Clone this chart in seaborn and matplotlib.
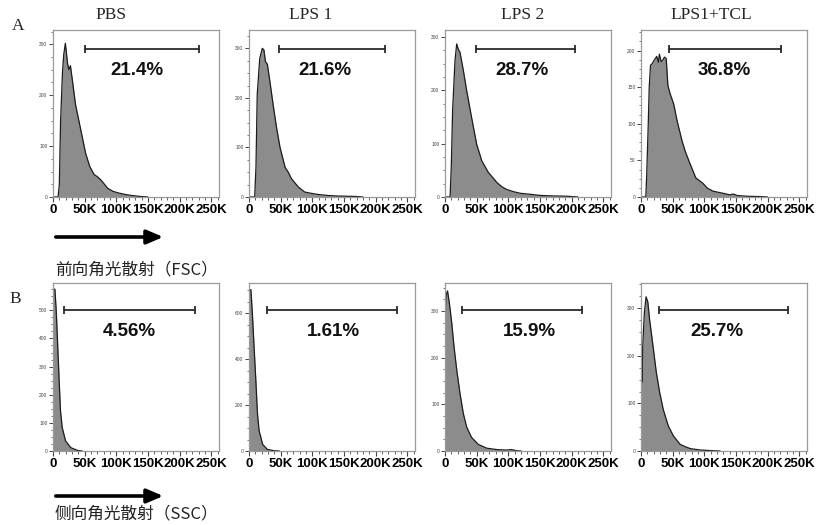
"""Histogramas de citometria: FSC (fila A) y SSC (fila B) para cuatro grupos."""

import matplotlib

matplotlib.use("Agg")
import matplotlib.pyplot as plt
import matplotlib.transforms as mtransforms
import seaborn as sns
from matplotlib.ticker import AutoMinorLocator, FuncFormatter, MultipleLocator

# ---------------- datos ----------------
GRUPOS = ["PBS", "LPS 1", "LPS 2", "LPS1+TCL"]

# FSC (fila A): posicion en miles (K) y recuento
fsc_pbs_k = [0, 8, 10, 12, 15, 17, 19.5, 21, 23, 25, 27.5, 30, 35.5, 43.5, 51.5, 58, 65, 70, 76, 86.5, 95, 103, 114, 124, 138, 150]
fsc_pbs_n = [0, 0, 25, 150, 245, 280, 302, 285, 262, 250, 258, 235, 182, 134, 86, 60, 44, 40, 33, 17, 11, 8, 5, 3, 1, 0]

fsc_lps1_k = [0, 9, 11, 13, 17, 21, 23.5, 26, 29, 33, 38, 43.5, 49, 57, 62, 67, 78, 88, 100, 110, 125, 140, 170, 180]
fsc_lps1_n = [0, 0, 60, 207, 280, 300, 297, 273, 268, 233, 187, 140, 100, 60, 50, 37, 20, 10, 7, 5, 3, 2, 1, 0]

fsc_lps2_k = [0, 8, 10, 12, 15.8, 18.5, 21, 23.7, 29, 34.3, 42, 50, 58, 68.5, 75, 82, 90, 97.6, 108, 118.7, 135, 150, 170, 192, 210]
fsc_lps2_n = [0, 0, 60, 162, 256, 287, 277, 271, 237, 199, 149, 99, 68, 46, 37, 27, 19, 14, 10, 7, 5, 3, 2, 1.5, 0]

fsc_tcl_k = [0, 7.6, 9, 11.3, 13, 15, 17.8, 21, 22.6, 24.8, 27.5, 29, 31.8, 34.5, 37, 39.8, 42.5, 46, 51.6, 57, 65, 70,
             75.8, 86.6, 97.4, 105, 113.5, 130, 140, 146, 152, 168, 190, 200]
fsc_tcl_n = [0, 0, 30, 95, 150, 180, 182, 187, 189, 192, 184, 195, 185, 187, 191, 189, 152, 141, 127, 104, 76, 62,
             49, 26, 19, 12, 8, 5, 3, 4, 2, 1, 0.5, 0]

# SSC (fila B)
ssc_pbs_k = [0, 0.5, 3, 5.3, 7.5, 9.7, 11.8, 14.5, 19.8, 28, 38.7, 46]
ssc_pbs_n = [0, 575, 575, 490, 370, 251, 143, 84, 36, 12, 2, 0]

ssc_lps1_k = [0, 0.5, 3, 5.3, 8, 10.8, 13.4, 16, 21.5, 29, 40, 48]
ssc_lps1_n = [0, 702, 702, 600, 453, 307, 161, 88, 29, 7, 1, 0]

ssc_lps2_k = [0, 0.3, 2, 4, 6.8, 10.6, 14.2, 18.5, 23.7, 29, 34.3, 42, 52.7, 66, 82, 97, 105, 113, 120]
ssc_lps2_n = [0, 290, 336, 343, 318, 275, 224, 174, 123, 80, 51, 29, 14, 6, 3, 2, 3, 0.5, 0]

ssc_tcl_k = [0, 0.3, 1.5, 2.7, 5.4, 8, 10.8, 13.4, 18.9, 24.2, 29.5, 35, 43, 51, 61.8, 70, 78, 94, 115, 125]
ssc_tcl_n = [0, 193, 145, 221, 292, 324, 313, 278, 221, 165, 123, 88, 53, 32, 14, 9, 5, 2, 0.5, 0]

# puertas (K) y porcentajes
fsc_gate_lo = [50, 48, 48.6, 45]
fsc_gate_hi = [230, 214, 204.6, 221]
fsc_pct = ["21.4%", "21.6%", "28.7%", "36.8%"]

ssc_gate_lo = [16.6, 28.5, 27.4, 27.9]
ssc_gate_hi = [223.7, 234, 216, 232]
ssc_pct = ["4.56%", "1.61%", "15.9%", "25.7%"]

# escala vertical de cada panel
fsc_ymax = [328, 337, 313, 228]
fsc_ystep = [100, 100, 100, 50]
ssc_ymax = [597, 731, 360, 353]
ssc_ystep = [100, 200, 100, 100]

# ---------------- estilo ----------------
sns.set_style("ticks")
plt.rcParams["font.family"] = ["Liberation Sans", "DejaVu Sans"]

W, H = 818, 525
fig = plt.figure(figsize=(W / 100, H / 100), dpi=100)

IZQ_PX = [53, 249, 445, 641]
ANCHO_PX = 166
FILAS_PX = [(30, 197), (283, 451)]
TEXTO_X_FSC = [0.506, 0.458, 0.465, 0.504]
TEXTO_X_SSC = [0.46, 0.508, 0.507, 0.456]


def formato_k(v, _pos):
    return "0" if v == 0 else f"{int(round(v / 1000))}K"


def dibujar_panel(ax, k, n, ymax, ystep, lo, hi, pct, gate_y, texto_x, texto_y):
    x = [v * 1000 for v in k]
    ax.fill_between(x, n, color="#8c8c8c", linewidth=0)
    sns.lineplot(x=x, y=n, ax=ax, color="#1c1c1c", linewidth=0.9, sort=False, estimator=None)

    ax.set_xlim(0, 262144)
    ax.set_ylim(0, ymax)
    ax.xaxis.set_major_locator(MultipleLocator(50000))
    ax.xaxis.set_minor_locator(AutoMinorLocator(5))
    ax.xaxis.set_major_formatter(FuncFormatter(formato_k))
    ax.yaxis.set_major_locator(MultipleLocator(ystep))
    ax.yaxis.set_minor_locator(AutoMinorLocator(4))
    ax.tick_params(axis="x", which="major", length=3.5, width=0.8, pad=1.5, labelsize=9.5)
    ax.tick_params(axis="x", which="minor", length=2, width=0.6)
    ax.tick_params(axis="y", which="major", length=3, width=0.7, pad=1, labelsize=3.5, labelcolor="#555555")
    ax.tick_params(axis="y", which="minor", length=1.6, width=0.5)
    ax.tick_params(colors="#444444", which="both")
    for lab in ax.get_xticklabels():
        lab.set_fontweight("bold")
        lab.set_color("black")
    for s in ax.spines.values():
        s.set_color("#9a9a9a")
        s.set_linewidth(0.9)
    ax.set_xlabel("")
    ax.set_ylabel("")

    trans = mtransforms.blended_transform_factory(ax.transData, ax.transAxes)
    ax.plot([lo * 1000, hi * 1000], [gate_y, gate_y], transform=trans, color="#2b2b2b",
            linewidth=1.3, marker="|", markersize=6, markeredgewidth=1.3)
    ax.text(texto_x, texto_y, pct, transform=ax.transAxes, ha="center", va="center",
            fontsize=13.5, fontweight="bold", color="#111111")


datos_fsc = [(fsc_pbs_k, fsc_pbs_n), (fsc_lps1_k, fsc_lps1_n), (fsc_lps2_k, fsc_lps2_n), (fsc_tcl_k, fsc_tcl_n)]
datos_ssc = [(ssc_pbs_k, ssc_pbs_n), (ssc_lps1_k, ssc_lps1_n), (ssc_lps2_k, ssc_lps2_n), (ssc_tcl_k, ssc_tcl_n)]

for fila, (arriba, abajo) in enumerate(FILAS_PX):
    for i in range(4):
        ax = fig.add_axes([IZQ_PX[i] / W, 1 - abajo / H, ANCHO_PX / W, (abajo - arriba) / H])
        if fila == 0:
            k, n = datos_fsc[i]
            dibujar_panel(ax, k, n, fsc_ymax[i], fsc_ystep[i], fsc_gate_lo[i], fsc_gate_hi[i],
                          fsc_pct[i], 0.885, TEXTO_X_FSC[i], 0.755)
        else:
            k, n = datos_ssc[i]
            dibujar_panel(ax, k, n, ssc_ymax[i], ssc_ystep[i], ssc_gate_lo[i], ssc_gate_hi[i],
                          ssc_pct[i], 0.84, TEXTO_X_SSC[i], 0.71)

# titulos de columna
for x_px, nombre in zip([111, 311, 523, 711], GRUPOS):
    fig.text(x_px / W, 1 - 15 / H, nombre, ha="center", va="center", fontsize=12.5,
             family=["Liberation Serif", "DejaVu Serif"])

fig.text(18 / W, 1 - 26 / H, "A", ha="center", va="center", fontsize=12.5, family=["Liberation Serif"])
fig.text(15 / W, 1 - 299 / H, "B", ha="center", va="center", fontsize=12.5, family=["Liberation Serif"])

# flechas y etiquetas de eje
for y_flecha, y_texto, texto in [(237, 270, "前向角光散射（FSC）"), (496, 514, "侧向角光散射（SSC）")]:
    fig.add_artist(matplotlib.patches.FancyArrowPatch(
        (53 / W, 1 - y_flecha / H), (166 / W, 1 - y_flecha / H), transform=fig.transFigure,
        arrowstyle="-|>,head_length=0.7,head_width=0.3", mutation_scale=14, linewidth=2.6, color="black"))
    fig.text(55 / W, 1 - y_texto / H, texto, ha="left", va="center", fontsize=12,
             family=["Noto Sans CJK SC", "DejaVu Sans"], color="#222222")

fig.savefig("out.png", dpi=100)
